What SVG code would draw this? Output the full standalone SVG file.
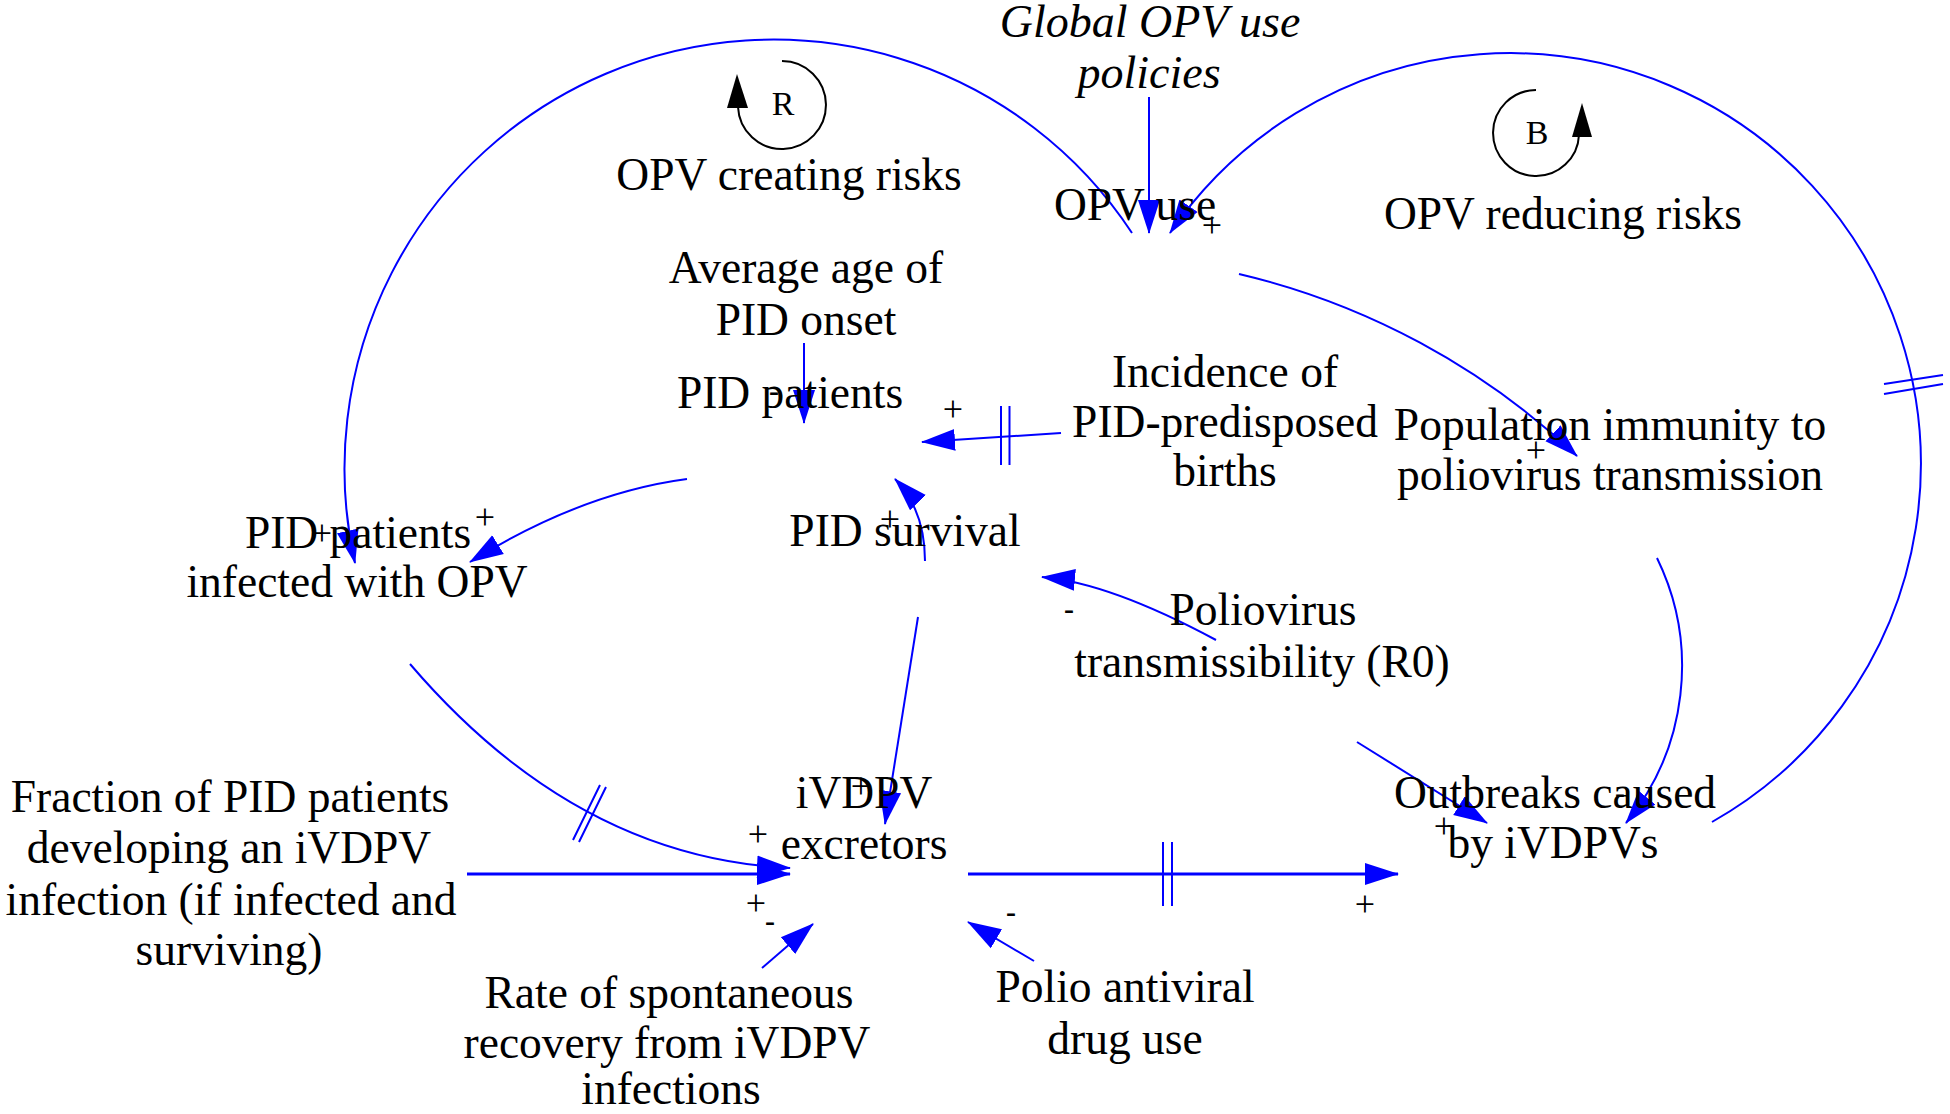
<svg xmlns="http://www.w3.org/2000/svg" width="1950" height="1114" viewBox="0 0 1950 1114">
<style>
text { font-family: "Liberation Serif", "Times New Roman", serif; fill: #000; }
.lbl { font-size: 45.5px; text-anchor: middle; }
.ital { font-size: 46px; font-style: italic; text-anchor: middle; }
.loop { font-size: 34px; text-anchor: middle; }
.pos { font-size: 36px; text-anchor: middle; }
.neg { font-size: 30px; font-weight: bold; text-anchor: middle; }
.link { fill: none; stroke: #0000FF; stroke-width: 2; marker-end: url(#arr); }
.thick { stroke-width: 3; }
.delay { fill: none; stroke: #0000FF; stroke-width: 2; }
.loopc { fill: none; stroke: #000; stroke-width: 2; }
</style>
<defs>
<marker id="arr" markerUnits="userSpaceOnUse" markerWidth="34" markerHeight="24" viewBox="0 0 34 24" refX="33" refY="12" orient="auto">
<path d="M0,1 L34,12 L0,23 z" fill="#0000FF"/>
</marker>
</defs>
<rect width="1950" height="1114" fill="#fff"/>

<g id="connectors">
<path class="link" d="M1149,97 L1149,233"/>
<path class="link" d="M1132,233 A429,429 0 0 0 355,563"/>
<path class="link" d="M1712,822 A411,411 0 1 0 1170,233"/>
<path class="delay" d="M1884,384 L1943,375 M1884,394 L1943,384"/>
<path class="link" d="M1239,274 A740,740 0 0 1 1577,456"/>
<path class="link" d="M1657,558 A247,247 0 0 1 1626,823"/>
<path class="link" d="M804,343 L804,423"/>
<path class="link" d="M1061,433 L922,442"/>
<path class="delay" d="M1001,406 L1001,465 M1009.5,406 L1009.5,465"/>
<path class="link" d="M687,479 Q581,493 470,562"/>
<path class="link" d="M925,561 Q925,510 895,479"/>
<path class="link" d="M1216,640 Q1110,583 1042,577"/>
<path class="link" d="M918,617 L885,824"/>
<path class="link" d="M410,664 Q576,858 790,868"/>
<path class="delay" d="M600,785 L573,840 M606,787 L579,842"/>
<path class="link thick" d="M467,874 L790,874"/>
<path class="link" d="M762,968 L813,924"/>
<path class="link" d="M1034,961 L968,922"/>
<path class="link thick" d="M968,874 L1398,874"/>
<path class="delay" d="M1163,842 L1163,906 M1172,842 L1172,906"/>
<path class="link" d="M1357,742 L1487,823"/>
</g>

<g id="loop-R">
<path class="loopc" d="M782,61 A44,44 0 1 1 738,107"/>
<polygon points="737,74 727,108 748,108" fill="#000"/>
<text class="loop" x="783" y="115">R</text>
</g>
<g id="loop-B">
<path class="loopc" d="M1536,90 A43,43 0 1 0 1579,135"/>
<polygon points="1582,103 1572,137 1592,137" fill="#000"/>
<text class="loop" x="1537" y="144">B</text>
</g>

<g id="node-global-opv-policies">
<text class="ital" x="1150" y="37">Global OPV use</text>
<text class="ital" x="1149" y="88">policies</text>
</g>
<g id="node-opv-creating-risks"><text class="lbl" x="789" y="190">OPV creating risks</text></g>
<g id="node-opv-use"><text class="lbl" x="1135" y="220">OPV use</text></g>
<g id="node-opv-reducing-risks"><text class="lbl" x="1563" y="229">OPV reducing risks</text></g>
<g id="node-average-age">
<text class="lbl" x="806" y="283">Average age of</text>
<text class="lbl" x="806" y="335">PID onset</text>
</g>
<g id="node-pid-patients"><text class="lbl" x="790" y="408">PID patients</text></g>
<g id="node-incidence">
<text class="lbl" x="1225" y="387">Incidence of</text>
<text class="lbl" x="1225" y="437">PID-predisposed</text>
<text class="lbl" x="1225" y="486">births</text>
</g>
<g id="node-population-immunity">
<text class="lbl" x="1610" y="440">Population immunity to</text>
<text class="lbl" x="1610" y="490">poliovirus transmission</text>
</g>
<g id="node-pid-infected">
<text class="lbl" x="358" y="548">PID patients</text>
<text class="lbl" x="357" y="597">infected with OPV</text>
</g>
<g id="node-pid-survival"><text class="lbl" x="905" y="546">PID survival</text></g>
<g id="node-r0">
<text class="lbl" x="1263" y="625">Poliovirus</text>
<text class="lbl" x="1262" y="677">transmissibility (R0)</text>
</g>
<g id="node-fraction">
<text class="lbl" x="230" y="812">Fraction of PID patients</text>
<text class="lbl" x="229" y="863">developing an iVDPV</text>
<text class="lbl" x="231" y="915">infection (if infected and</text>
<text class="lbl" x="229" y="965">surviving)</text>
</g>
<g id="node-ivdpv-excretors">
<text class="lbl" x="864" y="808">iVDPV</text>
<text class="lbl" x="864" y="859">excretors</text>
</g>
<g id="node-outbreaks">
<text class="lbl" x="1555" y="808">Outbreaks caused</text>
<text class="lbl" x="1553" y="858">by iVDPVs</text>
</g>
<g id="node-rate-recovery">
<text class="lbl" x="669" y="1008">Rate of spontaneous</text>
<text class="lbl" x="667" y="1058">recovery from iVDPV</text>
<text class="lbl" x="671" y="1104">infections</text>
</g>
<g id="node-antiviral">
<text class="lbl" x="1125" y="1002">Polio antiviral</text>
<text class="lbl" x="1125" y="1054">drug use</text>
</g>

<g id="polarities">
<text class="pos" x="1212" y="237">+</text>
<text class="pos" x="953" y="421">+</text>
<text class="neg" x="774" y="401">-</text>
<text class="pos" x="322" y="545">+</text>
<text class="pos" x="485" y="529">+</text>
<text class="pos" x="890" y="531">+</text>
<text class="neg" x="1069" y="619">-</text>
<text class="pos" x="1536" y="462">+</text>
<text class="pos" x="861" y="798">+</text>
<text class="pos" x="758" y="846">+</text>
<text class="pos" x="756" y="915">+</text>
<text class="neg" x="770" y="931">-</text>
<text class="neg" x="1011" y="922">-</text>
<text class="pos" x="1365" y="916">+</text>
<text class="pos" x="1444" y="838">+</text>
<text class="neg" x="1620" y="803">-</text>
</g>
</svg>
